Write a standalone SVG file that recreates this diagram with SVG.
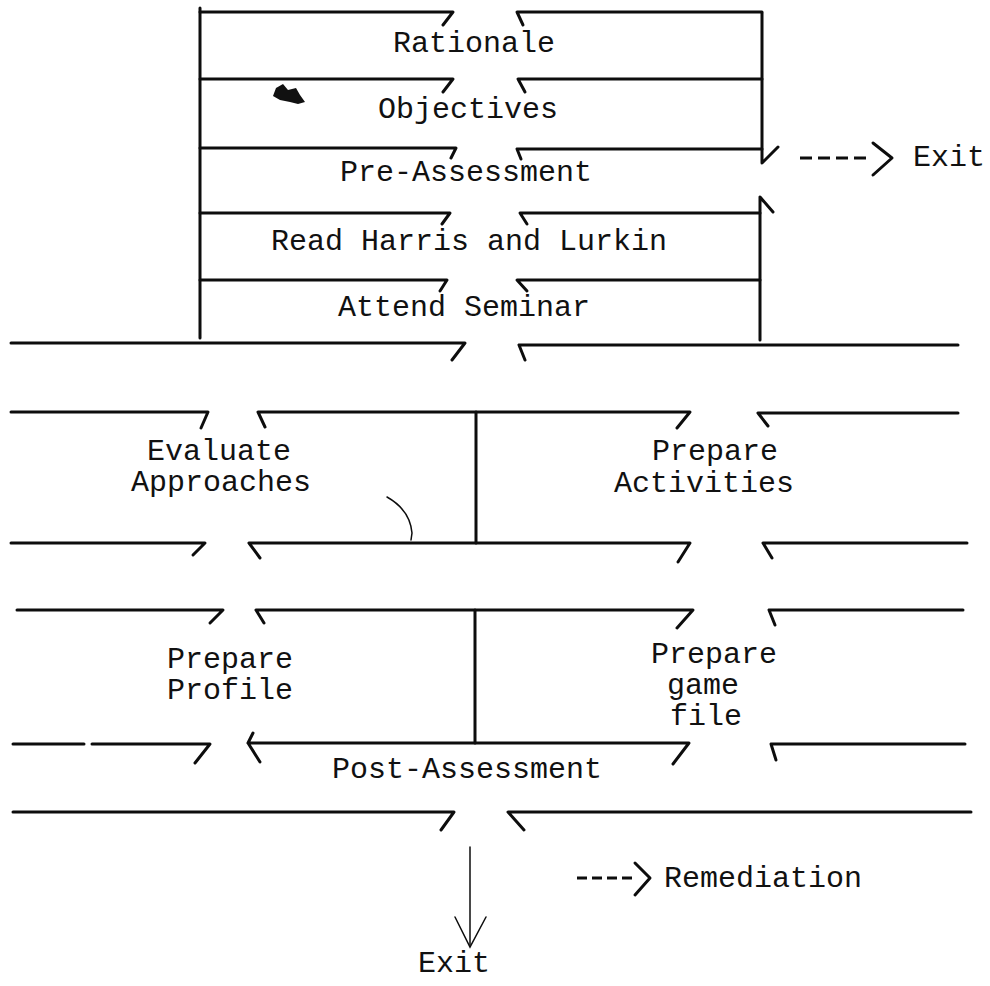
<svg xmlns="http://www.w3.org/2000/svg" width="990" height="986" viewBox="0 0 990 986">
<style>
.ln{stroke:#0d0d0d;stroke-width:3;fill:none;stroke-linecap:round;stroke-linejoin:round}
.thin{stroke:#0d0d0d;stroke-width:1.5;fill:none;stroke-linecap:round}
.dash{stroke:#0d0d0d;stroke-width:3;fill:none;stroke-dasharray:12 6}
.dash2{stroke:#0d0d0d;stroke-width:3;fill:none;stroke-dasharray:10 5}
.t{font-family:"Liberation Mono","Courier New",monospace;font-size:30px;fill:#111}
</style>
<rect width="990" height="986" fill="#fff"/>
<g id="connectors">
  <!-- top block frame -->
  <path class="ln" d="M200 8 V338"/>
  <path class="ln" d="M762 13 V163 L778 147"/>
  <path class="ln" d="M773 212 L760 197 V340"/>
  <path class="ln" d="M200 12 H453 L443 25"/>
  <path class="ln" d="M523 25 L517 12 H762"/>
  <path class="ln" d="M200 79 H453 L443 92"/>
  <path class="ln" d="M525 92 L518 79 H762"/>
  <path class="ln" d="M200 148 H456 L451 158"/>
  <path class="ln" d="M521 159 L517 149 H762"/>
  <path class="ln" d="M200 213 H450 L442 224"/>
  <path class="ln" d="M527 224 L520 213 H760"/>
  <path class="ln" d="M200 280 H447 L440 291"/>
  <path class="ln" d="M527 291 L517 280 H760"/>
  <!-- seminar line -->
  <path class="ln" d="M11 343 H465 L452 360"/>
  <path class="ln" d="M525 360 L519 345 H958"/>
  <!-- evaluate / activities band -->
  <path class="ln" d="M11 412 H208 L201 428"/>
  <path class="ln" d="M265 427 L258 412 H690 L677 428"/>
  <path class="ln" d="M768 426 L758 413 H958"/>
  <path class="ln" d="M476 412 V543"/>
  <path class="ln" d="M11 543 H205 L193 555"/>
  <path class="ln" d="M260 558 L249 543 H690 L678 562"/>
  <path class="ln" d="M772 558 L763 543 H967"/>
  <!-- profile / game file band -->
  <path class="ln" d="M17 610 H223 L210 623"/>
  <path class="ln" d="M264 623 L256 610 H693 L677 628"/>
  <path class="ln" d="M775 625 L769 610 H963"/>
  <path class="ln" d="M475 610 V743"/>
  <path class="ln" d="M13 744 H84 M92 744 H210 L195 763"/>
  <path class="ln" d="M253 733 L248 743 H689 L673 764 M248 743 L260 762"/>
  <path class="ln" d="M776 760 L771 744 H965"/>
  <!-- post-assessment bottom -->
  <path class="ln" d="M13 812 H454 L441 830"/>
  <path class="ln" d="M524 830 L508 812 H971"/>
  <!-- exit arrow -->
  <path class="thin" d="M470 847 V945"/>
  <path class="thin" d="M455 917 L470 947 L486 917"/>
  <!-- dashed exit / remediation arrows -->
  <path class="dash" d="M800 158 H870"/>
  <path class="ln" d="M873 143 L892 158 L873 175"/>
  <path class="dash2" d="M577 878 H632"/>
  <path class="ln" d="M635 863 L650 878 L635 895"/>
  <!-- scan marks -->
  <path class="thin" d="M387 497 Q410 510 412 533 L411 540"/>
  <path d="M276 88 L283 84 L288 90 L296 88 L300 95 L305 102 L298 104 L290 102 L280 100 L273 96 Z" fill="#111"/>
</g>
<g id="node-rationale"><text class="t" x="393" y="52">Rationale</text></g>
<g id="node-objectives"><text class="t" x="378" y="118">Objectives</text></g>
<g id="node-preassessment"><text class="t" x="340" y="181">Pre-Assessment</text></g>
<g id="node-read"><text class="t" x="271" y="250">Read Harris and Lurkin</text></g>
<g id="node-seminar"><text class="t" x="338" y="316">Attend Seminar</text></g>
<g id="node-exit-top"><text class="t" x="913" y="166">Exit</text></g>
<g id="node-evaluate"><text class="t" x="147" y="460">Evaluate</text><text class="t" x="131" y="491">Approaches</text></g>
<g id="node-activities"><text class="t" x="652" y="460">Prepare</text><text class="t" x="614" y="492">Activities</text></g>
<g id="node-profile"><text class="t" x="167" y="668">Prepare</text><text class="t" x="167" y="699">Profile</text></g>
<g id="node-gamefile"><text class="t" x="651" y="663">Prepare</text><text class="t" x="667" y="694">game</text><text class="t" x="670" y="725">file</text></g>
<g id="node-postassessment"><text class="t" x="332" y="778">Post-Assessment</text></g>
<g id="node-remediation"><text class="t" x="664" y="887">Remediation</text></g>
<g id="node-exit-bottom"><text class="t" x="418" y="972">Exit</text></g>
</svg>
